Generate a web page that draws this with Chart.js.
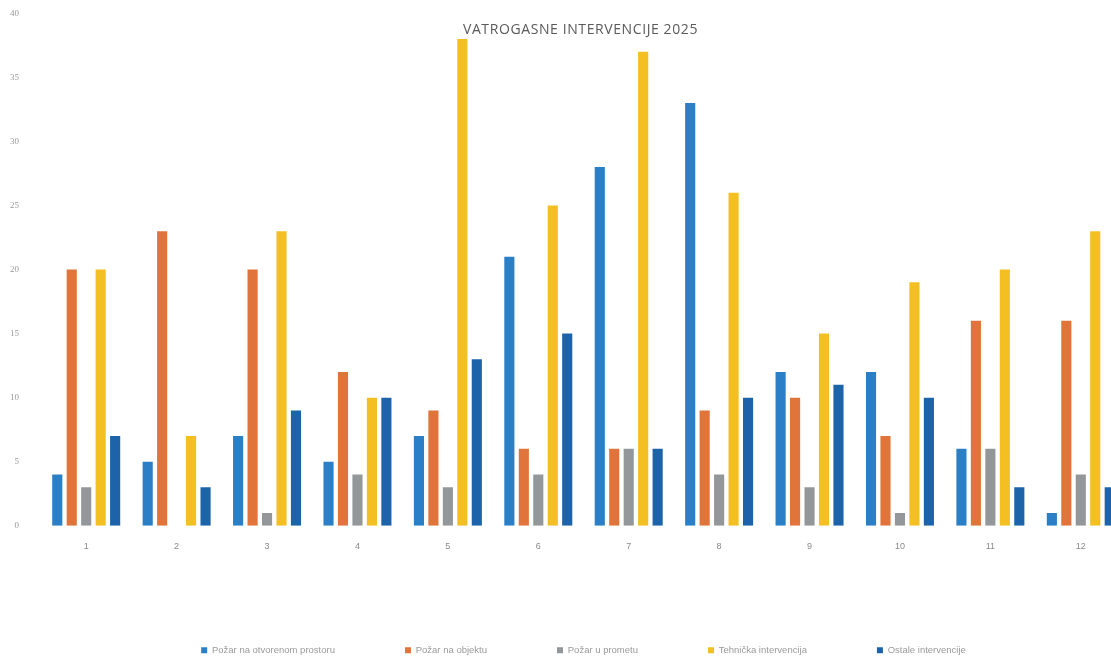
<!DOCTYPE html>
<html>
<head>
<meta charset="utf-8">
<script src="https://cdn.jsdelivr.net/npm/chart.js@4"></script>
<style>
  html, body { margin: 0; padding: 0; background: #ffffff; overflow: hidden; }
  #wrap { position: relative; width: 1130px; height: 673px; margin-top: -14px; }
</style>
</head>
<body>
<div id="wrap"><canvas id="c"></canvas></div>
<script>
const chartTitle = 'VATROGASNE INTERVENCIJE 2025';
const categories = ['1','2','3','4','5','6','7','8','9','10','11','12'];
const seriesNames = ['Požar na otvorenom prostoru','Požar na objektu','Požar u prometu','Tehnička intervencija','Ostale intervencije'];
const pozarOtvoreni = [4, 5, 7, 5, 7, 21, 28, 33, 12, 12, 6, 1];
const pozarObjekt   = [20, 23, 20, 12, 9, 6, 6, 9, 10, 7, 16, 16];
const pozarPromet   = [3, 0, 1, 4, 3, 4, 6, 4, 3, 1, 6, 4];
const tehnicka      = [20, 7, 23, 10, 38, 25, 37, 26, 15, 19, 20, 23];
const ostale        = [7, 3, 9, 10, 13, 15, 6, 10, 11, 10, 3, 3];
const yMax = 40;
const yStep = 5;
const colors = ['#2b7fc6', '#e0743a', '#949799', '#f4bf22', '#1d63a9'];

const seriesValues = [pozarOtvoreni, pozarObjekt, pozarPromet, tehnicka, ostale];

const titlePlugin = {
  id: 'overlayTitle',
  afterDraw(chart) {
    const ctx = chart.ctx;
    const a = chart.chartArea;
    ctx.save();
    ctx.fillStyle = '#5a5a5a';
    ctx.font = '14px "Open Sans", "Liberation Sans", sans-serif';
    if ('letterSpacing' in ctx) ctx.letterSpacing = '0.6px';
    ctx.textAlign = 'center';
    ctx.textBaseline = 'middle';
    ctx.fillText(chartTitle, (a.left + a.right) / 2 - 3, a.top + 17);
    ctx.restore();
  }
};

new Chart(document.getElementById('c'), {
  type: 'bar',
  data: {
    labels: categories,
    datasets: seriesNames.map((name, i) => ({
      label: name,
      data: seriesValues[i],
      backgroundColor: colors[i],
      borderWidth: 0,
      categoryPercentage: 0.8,
      barPercentage: 0.7
    }))
  },
  options: {
    responsive: true,
    maintainAspectRatio: false,
    animation: false,
    devicePixelRatio: 1,
    layout: { padding: { top: -6, left: -12, right: 4, bottom: -6 } },
    scales: {
      x: {
        grid: { display: false, drawTicks: false },
        border: { display: false },
        ticks: { color: '#8a8a8a', font: { size: 9, family: 'Liberation Sans' }, padding: 15 },
        afterFit(scale) { scale.height += 9; }
      },
      y: {
        min: 0,
        max: yMax,
        grid: { display: false, drawTicks: false },
        border: { display: false },
        ticks: { stepSize: yStep, color: '#9a9a9a', font: { size: 9, family: 'Liberation Serif' }, padding: 22 }
      }
    },
    plugins: {
      legend: {
        position: 'bottom',
        fullSize: false,
        labels: {
          boxWidth: 6,
          boxHeight: 6,
          padding: 70,
          color: '#9a9a9a',
          font: { size: 9.5, family: 'Liberation Sans' }
        }
      },
      title: { display: false },
      tooltip: { enabled: false }
    }
  },
  plugins: [titlePlugin]
});
</script>
</body>
</html>
